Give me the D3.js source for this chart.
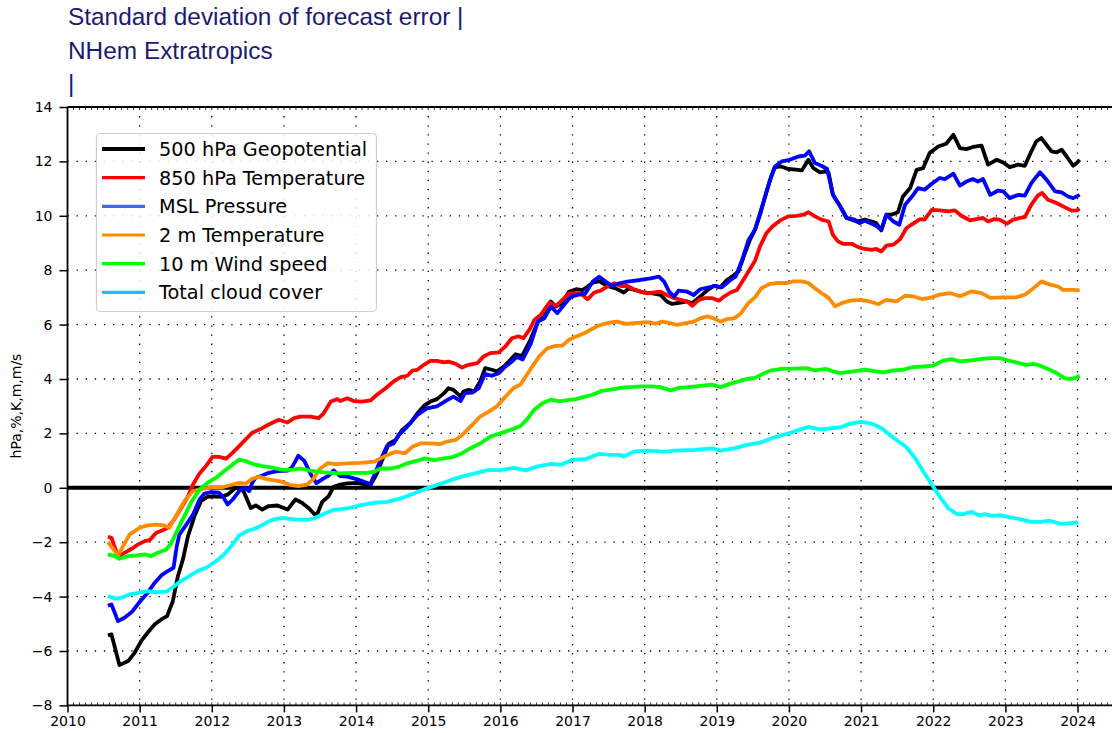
<!DOCTYPE html>
<html>
<head>
<meta charset="utf-8">
<script src="https://cdn.jsdelivr.net/npm/d3@7"></script>
<style>
  body { margin: 0; background: #fff; }
  svg { display: block; }
  .tick text { font-family: "DejaVu Sans", sans-serif; font-size: 14px; fill: #000; }
</style>
</head>
<body>
<script>
// series: [year, value]
const geopotential500 = [
  [2010.56,-5.43],[2010.61,-5.39],[2010.72,-6.52],[2010.84,-6.37],[2010.93,-6.07],[2011.02,-5.64],
  [2011.11,-5.33],[2011.21,-5.02],[2011.30,-4.84],[2011.38,-4.72],[2011.46,-4.17],[2011.53,-3.25],
  [2011.60,-2.63],[2011.67,-1.78],[2011.76,-1.04],[2011.85,-0.49],[2011.94,-0.33],[2012.03,-0.31],
  [2012.13,-0.33],[2012.22,-0.25],[2012.33,0.0],[2012.43,-0.06],[2012.54,-0.74],[2012.61,-0.65],
  [2012.70,-0.80],[2012.79,-0.67],[2012.91,-0.65],[2013.05,-0.80],[2013.16,-0.43],[2013.25,-0.55],
  [2013.34,-0.74],[2013.45,-1.04],[2013.53,-0.52],[2013.62,-0.31],[2013.69,0.04],[2013.78,0.12],
  [2013.88,0.16],[2014.02,0.18],[2014.13,0.12],[2014.20,0.10],[2014.29,0.53],[2014.38,1.14],
  [2014.45,1.61],[2014.55,1.76],[2014.64,2.13],[2014.75,2.37],[2014.85,2.74],[2014.94,3.01],
  [2015.03,3.17],[2015.12,3.26],[2015.22,3.48],[2015.28,3.66],[2015.35,3.60],[2015.45,3.35],
  [2015.49,3.54],[2015.56,3.60],[2015.64,3.55],[2015.72,3.91],[2015.79,4.40],[2015.88,4.34],
  [2015.95,4.28],[2016.05,4.46],[2016.14,4.71],[2016.21,4.91],[2016.30,4.84],[2016.41,5.40],
  [2016.52,6.11],[2016.61,6.30],[2016.70,6.85],[2016.77,6.66],[2016.86,6.81],[2016.95,7.21],
  [2017.05,7.30],[2017.14,7.27],[2017.21,7.40],[2017.28,7.54],[2017.37,7.60],[2017.48,7.42],
  [2017.60,7.33],[2017.71,7.18],[2017.78,7.33],[2017.90,7.25],[2017.99,7.18],[2018.11,7.15],
  [2018.22,7.09],[2018.31,6.85],[2018.38,6.76],[2018.50,6.81],[2018.59,6.85],[2018.66,6.79],
  [2018.77,7.03],[2018.87,7.27],[2018.96,7.42],[2019.05,7.37],[2019.14,7.64],[2019.24,7.82],
  [2019.30,7.95],[2019.39,8.63],[2019.46,9.12],[2019.53,9.49],[2019.60,10.04],[2019.67,10.71],
  [2019.74,11.33],[2019.80,11.78],[2019.88,11.82],[2019.99,11.72],[2020.10,11.70],[2020.18,11.67],
  [2020.27,12.06],[2020.34,11.75],[2020.43,11.60],[2020.50,11.63],[2020.55,11.58],[2020.61,10.77],
  [2020.71,10.35],[2020.80,9.92],[2020.94,9.79],[2021.05,9.86],[2021.15,9.79],[2021.21,9.73],
  [2021.28,9.46],[2021.35,10.04],[2021.42,10.04],[2021.51,10.13],[2021.58,10.71],[2021.68,11.02],
  [2021.77,11.69],[2021.86,11.75],[2021.95,12.31],[2022.07,12.55],[2022.18,12.65],[2022.28,12.98],
  [2022.37,12.49],[2022.46,12.45],[2022.55,12.53],[2022.67,12.58],[2022.76,11.88],[2022.88,12.06],
  [2022.97,11.96],[2023.06,11.79],[2023.18,11.88],[2023.27,11.84],[2023.36,12.37],[2023.43,12.74],
  [2023.50,12.86],[2023.57,12.61],[2023.64,12.37],[2023.71,12.33],[2023.78,12.43],[2023.85,12.18],
  [2023.94,11.84],[2023.99,11.94],[2024.03,12.06]
];

const temperature850 = [
  [2010.56,-1.80],[2010.61,-1.84],[2010.70,-2.54],[2010.79,-2.39],[2010.89,-2.24],[2010.98,-2.08],
  [2011.07,-1.96],[2011.14,-1.92],[2011.23,-1.65],[2011.32,-1.56],[2011.39,-1.47],[2011.48,-1.16],
  [2011.57,-0.77],[2011.67,-0.31],[2011.74,0.12],[2011.83,0.53],[2011.92,0.80],[2012.01,1.14],
  [2012.10,1.14],[2012.20,1.07],[2012.29,1.29],[2012.38,1.53],[2012.47,1.78],[2012.56,2.02],
  [2012.66,2.14],[2012.75,2.27],[2012.84,2.39],[2012.93,2.50],[2013.05,2.40],[2013.14,2.56],
  [2013.23,2.62],[2013.37,2.62],[2013.48,2.56],[2013.55,2.74],[2013.65,3.17],[2013.74,3.26],
  [2013.78,3.19],[2013.88,3.29],[2013.97,3.19],[2014.08,3.17],[2014.20,3.21],[2014.29,3.42],
  [2014.41,3.66],[2014.52,3.91],[2014.62,4.07],[2014.71,4.12],[2014.78,4.31],[2014.85,4.34],
  [2014.94,4.52],[2015.03,4.67],[2015.12,4.67],[2015.22,4.61],[2015.28,4.64],[2015.38,4.56],
  [2015.47,4.42],[2015.56,4.52],[2015.68,4.58],[2015.77,4.83],[2015.86,4.95],[2015.98,4.98],
  [2016.07,5.20],[2016.16,5.50],[2016.25,5.57],[2016.32,5.50],[2016.41,5.84],[2016.47,6.17],
  [2016.56,6.36],[2016.68,6.81],[2016.77,6.69],[2016.86,6.91],[2016.95,7.15],[2017.05,7.15],
  [2017.14,7.09],[2017.21,6.93],[2017.30,7.18],[2017.39,7.25],[2017.48,7.40],[2017.58,7.52],
  [2017.67,7.42],[2017.76,7.42],[2017.85,7.30],[2017.94,7.21],[2018.04,7.15],[2018.13,7.18],
  [2018.22,7.21],[2018.31,7.09],[2018.41,6.97],[2018.50,6.91],[2018.59,6.85],[2018.66,6.69],
  [2018.75,6.91],[2018.84,6.97],[2018.94,6.97],[2019.03,6.88],[2019.10,7.03],[2019.19,7.18],
  [2019.28,7.27],[2019.37,7.65],[2019.45,8.00],[2019.53,8.35],[2019.60,8.88],[2019.69,9.37],
  [2019.78,9.63],[2019.88,9.83],[2019.99,9.98],[2020.11,10.00],[2020.20,10.04],[2020.27,10.13],
  [2020.36,9.98],[2020.45,9.86],[2020.55,9.79],[2020.61,9.30],[2020.68,9.06],[2020.75,8.97],
  [2020.87,8.97],[2020.96,8.85],[2021.05,8.78],[2021.15,8.75],[2021.21,8.78],[2021.28,8.69],
  [2021.35,8.90],[2021.45,8.94],[2021.54,9.14],[2021.63,9.55],[2021.72,9.71],[2021.82,9.88],
  [2021.88,9.86],[2021.98,10.22],[2022.09,10.20],[2022.21,10.16],[2022.30,10.20],[2022.39,10.00],
  [2022.51,9.83],[2022.60,9.88],[2022.69,9.92],[2022.76,9.79],[2022.85,9.88],[2022.92,9.86],
  [2023.02,9.71],[2023.11,9.86],[2023.20,9.92],[2023.27,9.95],[2023.36,10.41],[2023.45,10.74],
  [2023.51,10.84],[2023.59,10.59],[2023.71,10.47],[2023.82,10.32],[2023.92,10.19],[2023.99,10.20],
  [2024.03,10.25]
];

const mslPressure = [
  [2010.56,-4.33],[2010.61,-4.29],[2010.70,-4.90],[2010.79,-4.78],[2010.89,-4.57],[2011.00,-4.20],
  [2011.11,-3.86],[2011.21,-3.49],[2011.30,-3.22],[2011.39,-3.06],[2011.47,-2.94],[2011.51,-2.21],
  [2011.55,-1.72],[2011.64,-1.38],[2011.74,-0.98],[2011.83,-0.43],[2011.90,-0.21],[2011.99,-0.16],
  [2012.10,-0.18],[2012.16,-0.35],[2012.22,-0.61],[2012.29,-0.43],[2012.38,-0.12],[2012.45,0.00],
  [2012.52,-0.12],[2012.56,0.18],[2012.61,0.37],[2012.70,0.45],[2012.79,0.55],[2012.91,0.61],
  [2013.05,0.63],[2013.11,0.74],[2013.20,1.18],[2013.28,1.00],[2013.37,0.51],[2013.45,0.17],
  [2013.54,0.33],[2013.62,0.45],[2013.69,0.64],[2013.78,0.43],[2013.88,0.41],[2014.02,0.31],
  [2014.11,0.22],[2014.20,0.14],[2014.29,0.71],[2014.36,1.14],[2014.43,1.54],[2014.52,1.63],
  [2014.59,1.94],[2014.71,2.25],[2014.85,2.68],[2014.98,2.92],[2015.12,2.99],[2015.24,3.19],
  [2015.35,3.35],[2015.45,3.19],[2015.51,3.48],[2015.61,3.50],[2015.70,3.66],[2015.79,4.19],
  [2015.88,4.12],[2015.98,4.21],[2016.07,4.46],[2016.16,4.64],[2016.23,4.82],[2016.31,4.72],
  [2016.42,5.29],[2016.52,6.11],[2016.61,6.23],[2016.70,6.66],[2016.79,6.42],[2016.88,6.72],
  [2016.98,7.03],[2017.07,7.09],[2017.18,7.15],[2017.28,7.58],[2017.37,7.76],[2017.46,7.58],
  [2017.55,7.42],[2017.65,7.52],[2017.76,7.58],[2017.94,7.64],[2018.08,7.70],[2018.20,7.76],
  [2018.27,7.58],[2018.34,7.21],[2018.41,7.03],[2018.47,7.25],[2018.59,7.21],[2018.68,7.09],
  [2018.77,7.30],[2018.89,7.37],[2018.98,7.42],[2019.07,7.37],[2019.19,7.64],[2019.26,7.76],
  [2019.35,8.37],[2019.44,9.11],[2019.53,9.49],[2019.60,10.10],[2019.67,10.71],[2019.74,11.33],
  [2019.81,11.82],[2019.90,12.00],[2020.01,12.06],[2020.13,12.18],[2020.22,12.21],[2020.28,12.37],
  [2020.36,11.94],[2020.45,11.84],[2020.53,11.72],[2020.61,10.77],[2020.71,10.35],[2020.80,9.92],
  [2020.91,9.86],[2020.98,9.73],[2021.05,9.82],[2021.15,9.71],[2021.21,9.63],[2021.28,9.49],
  [2021.35,10.04],[2021.45,9.79],[2021.53,9.67],[2021.61,10.41],[2021.70,10.69],[2021.79,11.02],
  [2021.88,10.96],[2021.98,11.18],[2022.09,11.39],[2022.16,11.35],[2022.28,11.55],[2022.37,11.11],
  [2022.46,11.26],[2022.55,11.35],[2022.62,11.26],[2022.69,11.35],[2022.79,10.77],[2022.90,10.93],
  [2022.97,10.90],[2023.06,10.65],[2023.18,10.77],[2023.27,10.74],[2023.36,11.20],[2023.48,11.60],
  [2023.57,11.33],[2023.69,10.90],[2023.78,10.86],[2023.87,10.71],[2023.94,10.65],[2024.03,10.77]
];

const temperature2m = [
  [2010.56,-2.00],[2010.70,-2.48],[2010.86,-1.72],[2011.00,-1.47],[2011.11,-1.38],[2011.23,-1.35],
  [2011.34,-1.38],[2011.41,-1.47],[2011.53,-0.92],[2011.62,-0.49],[2011.74,-0.12],[2011.87,-0.04],
  [2012.01,0.02],[2012.15,0.02],[2012.29,0.12],[2012.38,0.18],[2012.47,0.15],[2012.56,0.33],
  [2012.66,0.40],[2012.75,0.33],[2012.84,0.28],[2012.95,0.24],[2013.08,0.11],[2013.20,0.06],
  [2013.32,0.12],[2013.40,0.30],[2013.50,0.70],[2013.61,0.91],[2013.72,0.87],[2013.88,0.90],
  [2014.06,0.92],[2014.25,0.96],[2014.34,1.08],[2014.43,1.20],[2014.55,1.33],[2014.68,1.27],
  [2014.78,1.51],[2014.89,1.63],[2015.01,1.63],[2015.17,1.61],[2015.26,1.70],[2015.38,1.76],
  [2015.47,1.94],[2015.61,2.31],[2015.72,2.62],[2015.84,2.80],[2015.95,2.99],[2016.07,3.35],
  [2016.18,3.66],[2016.28,3.80],[2016.42,4.37],[2016.54,4.83],[2016.65,5.13],[2016.77,5.22],
  [2016.86,5.23],[2016.95,5.44],[2017.05,5.56],[2017.16,5.68],[2017.25,5.81],[2017.35,5.95],
  [2017.44,6.03],[2017.53,6.08],[2017.62,6.11],[2017.74,6.03],[2017.85,6.05],[2017.99,6.08],
  [2018.08,6.08],[2018.15,6.03],[2018.24,6.11],[2018.36,6.05],[2018.45,5.99],[2018.57,6.05],
  [2018.68,6.11],[2018.77,6.23],[2018.87,6.30],[2018.96,6.23],[2019.05,6.11],[2019.14,6.20],
  [2019.24,6.23],[2019.33,6.40],[2019.44,6.80],[2019.53,7.00],[2019.62,7.34],[2019.74,7.50],
  [2019.85,7.53],[2019.97,7.53],[2020.06,7.59],[2020.18,7.59],[2020.27,7.53],[2020.36,7.34],
  [2020.45,7.16],[2020.55,6.98],[2020.64,6.67],[2020.73,6.79],[2020.85,6.88],[2020.98,6.91],
  [2021.12,6.85],[2021.24,6.75],[2021.35,6.91],[2021.49,6.85],[2021.61,7.06],[2021.72,7.04],
  [2021.84,6.94],[2021.95,6.98],[2022.09,7.10],[2022.23,7.16],[2022.37,7.04],[2022.53,7.22],
  [2022.67,7.16],[2022.79,6.98],[2022.97,7.00],[2023.15,7.00],[2023.27,7.10],[2023.39,7.34],
  [2023.50,7.59],[2023.62,7.47],[2023.73,7.40],[2023.80,7.28],[2023.94,7.28],[2024.03,7.26]
];

const windSpeed10m = [
  [2010.56,-2.45],[2010.66,-2.51],[2010.72,-2.61],[2010.84,-2.51],[2010.95,-2.49],[2011.07,-2.45],
  [2011.16,-2.51],[2011.25,-2.39],[2011.37,-2.27],[2011.44,-2.02],[2011.53,-1.53],[2011.62,-1.04],
  [2011.71,-0.55],[2011.83,-0.06],[2011.94,0.18],[2012.06,0.37],[2012.17,0.61],[2012.29,0.86],
  [2012.38,1.04],[2012.47,0.98],[2012.59,0.86],[2012.70,0.80],[2012.84,0.74],[2012.98,0.66],
  [2013.11,0.66],[2013.23,0.71],[2013.38,0.62],[2013.55,0.57],[2013.78,0.53],[2013.97,0.55],
  [2014.15,0.55],[2014.25,0.59],[2014.34,0.71],[2014.48,0.71],[2014.59,0.77],[2014.71,0.90],
  [2014.85,1.00],[2014.96,1.08],[2015.08,1.02],[2015.22,1.08],[2015.35,1.14],[2015.47,1.27],
  [2015.58,1.45],[2015.72,1.63],[2015.86,1.88],[2016.00,2.00],[2016.14,2.13],[2016.28,2.27],
  [2016.38,2.55],[2016.47,2.87],[2016.59,3.12],[2016.70,3.24],[2016.82,3.18],[2016.93,3.22],
  [2017.05,3.26],[2017.16,3.34],[2017.28,3.42],[2017.39,3.55],[2017.53,3.61],[2017.67,3.67],
  [2017.81,3.70],[2017.94,3.73],[2018.08,3.73],[2018.22,3.70],[2018.36,3.58],[2018.47,3.67],
  [2018.61,3.70],[2018.77,3.75],[2018.94,3.79],[2019.05,3.70],[2019.19,3.83],[2019.30,3.91],
  [2019.41,4.00],[2019.53,4.04],[2019.64,4.19],[2019.76,4.32],[2019.90,4.37],[2020.06,4.38],
  [2020.24,4.40],[2020.36,4.32],[2020.52,4.37],[2020.61,4.28],[2020.71,4.22],[2020.89,4.28],
  [2021.05,4.34],[2021.21,4.28],[2021.31,4.24],[2021.45,4.32],[2021.58,4.34],[2021.72,4.44],
  [2021.86,4.46],[2022.00,4.49],[2022.14,4.68],[2022.25,4.73],[2022.37,4.65],[2022.51,4.68],
  [2022.65,4.73],[2022.79,4.77],[2022.92,4.77],[2023.04,4.68],[2023.15,4.61],[2023.29,4.52],
  [2023.39,4.56],[2023.48,4.49],[2023.59,4.37],[2023.71,4.22],[2023.82,4.03],[2023.89,4.00],
  [2023.96,4.03],[2024.03,4.12]
];

const totalCloudCover = [
  [2010.56,-3.98],[2010.66,-4.08],[2010.75,-4.04],[2010.86,-3.92],[2010.98,-3.86],[2011.11,-3.80],
  [2011.23,-3.84],[2011.37,-3.82],[2011.48,-3.62],[2011.57,-3.43],[2011.69,-3.25],[2011.80,-3.06],
  [2011.92,-2.94],[2012.06,-2.70],[2012.17,-2.45],[2012.29,-2.08],[2012.38,-1.75],[2012.49,-1.59],
  [2012.63,-1.47],[2012.75,-1.29],[2012.86,-1.16],[2012.98,-1.11],[2013.14,-1.16],[2013.32,-1.18],
  [2013.42,-1.12],[2013.55,-0.96],[2013.69,-0.81],[2013.88,-0.76],[2014.06,-0.64],[2014.25,-0.55],
  [2014.43,-0.52],[2014.62,-0.39],[2014.80,-0.21],[2014.98,-0.02],[2015.12,0.10],[2015.31,0.28],
  [2015.49,0.43],[2015.68,0.55],[2015.82,0.65],[2016.00,0.65],[2016.19,0.73],[2016.35,0.64],
  [2016.52,0.79],[2016.70,0.88],[2016.84,0.85],[2017.00,1.03],[2017.18,1.05],[2017.37,1.25],
  [2017.53,1.21],[2017.65,1.21],[2017.71,1.15],[2017.85,1.33],[2018.04,1.37],[2018.27,1.33],
  [2018.41,1.37],[2018.68,1.39],[2018.94,1.45],[2019.05,1.37],[2019.24,1.45],[2019.42,1.58],
  [2019.60,1.66],[2019.79,1.85],[2019.97,1.98],[2020.11,2.10],[2020.27,2.24],[2020.43,2.15],
  [2020.57,2.18],[2020.71,2.22],[2020.85,2.36],[2021.00,2.42],[2021.15,2.36],[2021.29,2.18],
  [2021.40,1.94],[2021.52,1.70],[2021.63,1.49],[2021.75,1.09],[2021.86,0.61],[2021.98,0.12],
  [2022.10,-0.36],[2022.21,-0.76],[2022.33,-0.97],[2022.42,-0.97],[2022.53,-0.88],[2022.63,-1.01],
  [2022.72,-0.97],[2022.81,-1.03],[2022.93,-1.01],[2023.07,-1.09],[2023.21,-1.15],[2023.35,-1.25],
  [2023.48,-1.25],[2023.62,-1.21],[2023.78,-1.33],[2023.90,-1.30],[2024.01,-1.27]
];

const seriesNames = ["500 hPa Geopotential", "850 hPa Temperature", "MSL Pressure",
                     "2 m Temperature", "10 m Wind speed", "Total cloud cover"];
const lineColors = ["#000000", "#ff0000", "#0000ff", "#ff8c00", "#00ff00", "#00ffff"];
const legendColors = ["#000000", "#ff0000", "#4169e1", "#ff8c00", "#00ff00", "#1ebcff"];
const yearTicks = d3.range(2010, 2025);
const valueTicks = d3.range(-8, 15, 2);
const titleLines = ["Standard deviation of forecast error |", "NHem Extratropics", "|"];
const yLabel = "hPa,%,K,m,m/s";

const allSeries = [geopotential500, temperature850, mslPressure, temperature2m, windSpeed10m, totalCloudCover];

const w = 1112, h = 733;
const plotLeft = 67.5, plotTop = 107, plotBottom = 705.4;

const svg = d3.select("body").append("svg")
  .attr("width", w)
  .attr("height", h);

const x = d3.scaleLinear().domain([2010, 2024]).range([plotLeft, 1077.5]);
const y = d3.scaleLinear().domain([-8, 14]).range([plotBottom, plotTop]);

// title
svg.append("g").selectAll("text").data(titleLines).enter().append("text")
  .attr("x", 68)
  .attr("y", (d, i) => 25 + i * 33.5)
  .attr("fill", "#1b1b72")
  .style("font-family", "'Liberation Sans', Arial, sans-serif")
  .style("font-size", "24.4px")
  .text(d => d);

// dotted grid
const grid = svg.append("g");
grid.selectAll("line.gx").data(yearTicks.slice(1)).enter().append("line")
  .attr("x1", d => x(d)).attr("x2", d => x(d))
  .attr("y1", plotTop).attr("y2", plotBottom)
  .attr("stroke", "#000").attr("stroke-width", 1.3)
  .attr("stroke-dasharray", "1.3,7.8");
grid.selectAll("line.gy").data(valueTicks.filter(v => v > -8 && v < 14)).enter().append("line")
  .attr("x1", plotLeft).attr("x2", w)
  .attr("y1", d => y(d)).attr("y2", d => y(d))
  .attr("stroke", "#000").attr("stroke-width", 1.3)
  .attr("stroke-dasharray", "1.3,7.8");

// zero line
svg.append("line")
  .attr("x1", plotLeft).attr("x2", w)
  .attr("y1", y(0)).attr("y2", y(0))
  .attr("stroke", "#000").attr("stroke-width", 4);

// minor monthly ticks on top and bottom spines
const months = d3.range(2010, 2024.5, 1 / 12);
svg.append("g").selectAll("line").data(months).enter().append("line")
  .attr("x1", d => x(d)).attr("x2", d => x(d))
  .attr("y1", plotTop).attr("y2", plotTop + 3)
  .attr("stroke", "#000").attr("stroke-width", 0.8);
svg.append("g").selectAll("line").data(months).enter().append("line")
  .attr("x1", d => x(d)).attr("x2", d => x(d))
  .attr("y1", plotBottom).attr("y2", plotBottom - 3)
  .attr("stroke", "#000").attr("stroke-width", 0.8);

// axes
const xAxis = d3.axisBottom(x).tickValues(yearTicks).tickFormat(d3.format("d")).tickSize(7).tickPadding(4);
const gx = svg.append("g").attr("transform", "translate(0," + plotBottom + ")").call(xAxis);
gx.select(".domain").remove();
gx.selectAll(".tick line").attr("stroke-width", 1.5);

const yAxis = d3.axisLeft(y).tickValues(valueTicks).tickSize(8).tickPadding(7);
const gy = svg.append("g").attr("transform", "translate(" + plotLeft + ",0)").call(yAxis);
gy.select(".domain").remove();
gy.selectAll(".tick line").attr("stroke-width", 1.5);

// spines
svg.append("line").attr("x1", plotLeft).attr("x2", plotLeft).attr("y1", plotTop).attr("y2", plotBottom)
  .attr("stroke", "#000").attr("stroke-width", 1.8);
svg.append("line").attr("x1", plotLeft).attr("x2", w).attr("y1", plotTop).attr("y2", plotTop)
  .attr("stroke", "#000").attr("stroke-width", 1.8);
svg.append("line").attr("x1", plotLeft).attr("x2", w).attr("y1", plotBottom).attr("y2", plotBottom)
  .attr("stroke", "#000").attr("stroke-width", 1.8);

// y label
svg.append("text")
  .attr("transform", "translate(21,406) rotate(-90)")
  .attr("text-anchor", "middle")
  .style("font-family", "'DejaVu Sans', sans-serif")
  .style("font-size", "14px")
  .text(yLabel);

// series lines
const line = d3.line().x(d => x(d[0])).y(d => y(d[1]));
svg.append("g").selectAll("path").data(allSeries).enter().append("path")
  .attr("d", line)
  .attr("fill", "none")
  .attr("stroke", (d, i) => lineColors[i])
  .attr("stroke-width", 3.8)
  .attr("stroke-linejoin", "round");

// legend
const legend = svg.append("g");
legend.append("rect")
  .attr("x", 96.5).attr("y", 133.5)
  .attr("width", 280).attr("height", 178)
  .attr("rx", 4)
  .attr("fill", "#fff").attr("fill-opacity", 0.85)
  .attr("stroke", "#d0d0d0").attr("stroke-width", 1.2);
const rows = legend.selectAll("g.row").data(seriesNames).enter().append("g")
  .attr("transform", (d, i) => "translate(0," + (149 + i * 28.66) + ")");
rows.append("line")
  .attr("x1", 102).attr("x2", 145)
  .attr("stroke", (d, i) => legendColors[i])
  .attr("stroke-width", (d, i) => i === 0 ? 4 : 3.2);
rows.append("text")
  .attr("x", 159).attr("dy", "0.36em")
  .style("font-family", "'DejaVu Sans', sans-serif")
  .style("font-size", "19.3px")
  .text(d => d);
</script>
</body>
</html>
